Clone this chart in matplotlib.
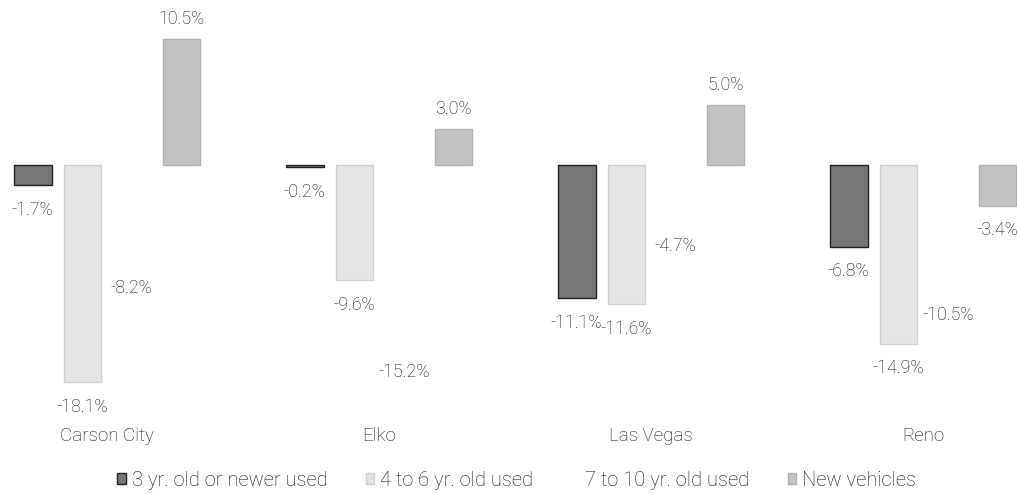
import numpy as np
import matplotlib.pyplot as plt

plt.rcParams['font.family'] = ['Roboto', 'DejaVu Sans']
plt.rcParams['font.weight'] = 'light'

cities = ["Carson City", "Elko", "Las Vegas", "Reno"]
series = ["3 yr. old or newer used", "4 to 6 yr. old used",
          "7 to 10 yr. old used", "New vehicles"]
newer_used = [-1.7, -0.2, -11.1, -6.8]
used_4_6 = [-18.1, -9.6, -11.6, -14.9]
used_7_10 = [-8.2, -15.2, -4.7, -10.5]
new_vehicles = [10.5, 3.0, 5.0, -3.4]

values = [newer_used, used_4_6, used_7_10, new_vehicles]
colors = ['#767676', '#e4e4e4', '#ffffff', '#c2c2c2']
edges = ['#222222', '#d0d0d0', '#ffffff', '#b0b0b0']

fig = plt.figure(figsize=(10.17, 4.94), dpi=100)
ax = fig.add_axes([0, 1 - 417/494, 1, 414/494])

x = np.arange(len(cities))
slot = 49.5 / 272
width = 37.5 / 272

for k in range(len(series)):
    pos = x + (k - 1.5) * slot
    bars = ax.bar(pos, values[k], width, color=colors[k], edgecolor=edges[k],
                  linewidth=1, label=series[k])
    for p, v in zip(pos, values[k]):
        off = 14.5 if v >= 0 else -17.5
        ax.annotate(f"{v:.1f}%", (p, v), xytext=(0, off), textcoords='offset points',
                    ha='center', va='center', fontsize=12.8, color='#111111')

ax.set_xlim(-107/272, (1017-107)/272)
ax.set_ylim(-21, 13.5)
ax.set_xticks(x)
ax.set_xticklabels(cities, fontsize=13.5, color='#111111')
ax.tick_params(axis='x', length=0, pad=7)
ax.set_yticks([])
for s in ax.spines.values():
    s.set_visible(False)

fig.legend(loc='center', bbox_to_anchor=(0.508, 1 - 480/494), ncol=4, frameon=False,
           fontsize=14.5, handlelength=0.4, handleheight=0.45, handletextpad=0.3,
           columnspacing=1.9, labelcolor='#111111')

fig.savefig("out.png", dpi=100)
